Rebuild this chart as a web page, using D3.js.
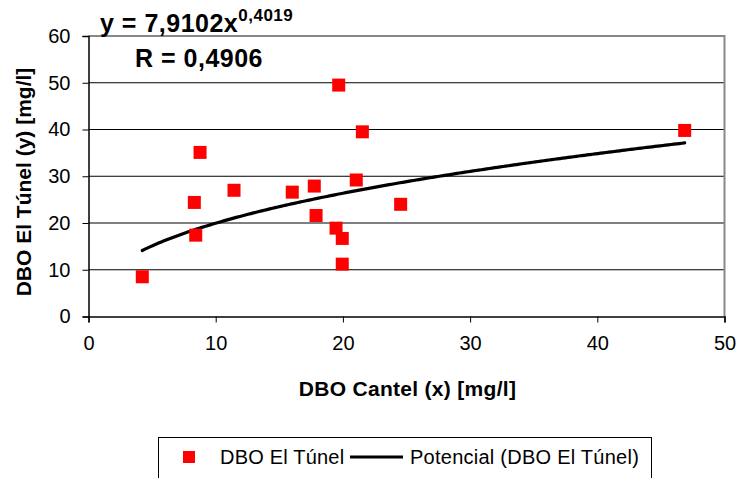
<!DOCTYPE html>
<html>
<head>
<meta charset="utf-8">
<script src="https://cdn.jsdelivr.net/npm/d3@7"></script>
<style>
  html, body { margin: 0; padding: 0; background: #fff; }
  svg { display: block; font-family: "Liberation Sans", Arial, sans-serif; }
</style>
</head>
<body>
<svg id="chart" width="739" height="478"></svg>
<script>
// DBO Cantel (x) vs DBO El Túnel (y), mg/l
const cantelX = [4.23, 8.77, 8.32, 8.43, 11.44, 16.02, 17.75, 17.89, 19.46, 19.95, 19.95, 19.67, 21.53, 21.05, 24.54, 46.87];
const tunelY  = [8.5, 35.1, 24.4, 17.4, 27.0, 26.6, 27.9, 21.6, 18.9, 16.7, 11.2, 49.5, 39.5, 29.2, 24.0, 39.8];
const xTicks = [0, 10, 20, 30, 40, 50];
const yTicks = [0, 10, 20, 30, 40, 50, 60];
// power trend fit: y = a * x^b
const fitA = 7.9102;
const fitB = 0.4019;
const fitR = "0,4906";

const FONT = "'Liberation Sans', Arial, sans-serif";
const svg = d3.select("#chart");
const plotL = 88.5, plotR = 724.5, plotT = 36, plotB = 316.5;

const x = d3.scaleLinear().domain([0, 50]).range([plotL, plotR]);
const y = d3.scaleLinear().domain([0, 60]).range([plotB, plotT]);

// horizontal gridlines
svg.append("g")
  .selectAll("line")
  .data(yTicks.filter(d => d > 0 && d < 60))
  .join("line")
  .attr("x1", plotL).attr("x2", plotR)
  .attr("y1", d => y(d)).attr("y2", d => y(d))
  .attr("stroke", "#000").attr("stroke-width", 1);

// plot area frame (top and right)
svg.append("path")
  .attr("d", `M${plotL},${plotT}H${plotR}V${plotB}`)
  .attr("fill", "none").attr("stroke", "#888").attr("stroke-width", 2);

// axes
const xAxis = d3.axisBottom(x).tickValues(xTicks).tickSize(6).tickPadding(13)
  .tickFormat(d3.format("d"));
const gx = svg.append("g").attr("transform", `translate(0,${plotB})`).call(xAxis);
const yAxis = d3.axisLeft(y).tickValues(yTicks).tickSize(6).tickPadding(12)
  .tickFormat(d3.format("d"));
const gy = svg.append("g").attr("transform", `translate(${plotL},0)`).call(yAxis);
[gx, gy].forEach(g => {
  g.attr("font-family", null).attr("font-size", null);
  g.select(".domain").attr("stroke", "#000").attr("stroke-width", 1.5);
  g.selectAll(".tick line").attr("stroke", "#000");
  g.selectAll(".tick text").attr("fill", "#000")
    .style("font-size", "20px").style("font-family", FONT);
});

// trend curve
const xmin = d3.min(cantelX), xmax = d3.max(cantelX);
const curvePts = d3.range(0, 201).map(i => {
  const xv = xmin + (xmax - xmin) * i / 200;
  return [xv, fitA * Math.pow(xv, fitB)];
});
svg.append("path")
  .datum(curvePts)
  .attr("d", d3.line().x(d => x(d[0])).y(d => y(d[1])))
  .attr("fill", "none").attr("stroke", "#000").attr("stroke-width", 3.2)
  .attr("stroke-linecap", "round");

// data markers
const ms = 13;
svg.append("g")
  .selectAll("rect")
  .data(cantelX.map((v, i) => [v, tunelY[i]]))
  .join("rect")
  .attr("x", d => x(d[0]) - ms / 2).attr("y", d => y(d[1]) - ms / 2)
  .attr("width", ms).attr("height", ms)
  .attr("fill", "#ff0000");

// axis titles
svg.append("text")
  .attr("x", (plotL + plotR) / 2 + 1).attr("y", 396)
  .attr("text-anchor", "middle")
  .style("font-family", FONT)
  .style("font-size", "21px").style("font-weight", "bold")
  .style("letter-spacing", "0.3px")
  .text("DBO Cantel (x) [mg/l]");
svg.append("text")
  .attr("transform", "translate(31,182) rotate(-90)")
  .attr("text-anchor", "middle")
  .style("font-family", FONT)
  .style("font-size", "21px").style("font-weight", "bold")
  .text("DBO El Túnel (y) [mg/l]");

// equation and correlation
const eq = svg.append("text").attr("x", 100).attr("y", 32)
  .style("font-family", FONT)
  .style("font-size", "25px").style("font-weight", "bold")
  .style("letter-spacing", "0.5px");
eq.append("tspan").text("y = 7,9102x");
eq.append("tspan").attr("dy", -11).style("font-size", "17px").text("0,4019");
svg.append("text").attr("x", 135).attr("y", 67)
  .style("font-family", FONT)
  .style("font-size", "25px").style("font-weight", "bold")
  .style("letter-spacing", "0.5px")
  .text("R = " + fitR);

// legend
const lg = svg.append("g").style("font-family", FONT);
lg.append("rect")
  .attr("x", 158.5).attr("y", 437.5).attr("width", 493).attr("height", 60)
  .attr("fill", "#fff").attr("stroke", "#000").attr("stroke-width", 1);
lg.append("rect")
  .attr("x", 183).attr("y", 451).attr("width", 12).attr("height", 12)
  .attr("fill", "#ff0000");
lg.append("text").attr("x", 220).attr("y", 464)
  .style("font-size", "20px").style("letter-spacing", "0.2px").text("DBO El Túnel");
lg.append("line")
  .attr("x1", 350).attr("x2", 403).attr("y1", 457).attr("y2", 457)
  .attr("stroke", "#000").attr("stroke-width", 3);
lg.append("text").attr("x", 410).attr("y", 464)
  .style("font-size", "20px").style("letter-spacing", "0.25px").text("Potencial (DBO El Túnel)");
</script>
</body>
</html>
